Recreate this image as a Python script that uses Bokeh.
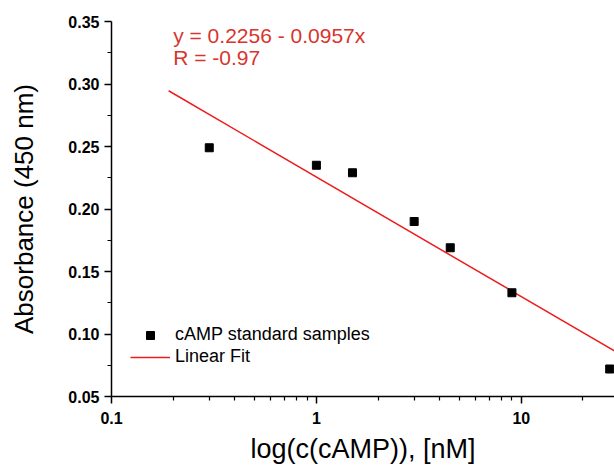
from bokeh.plotting import figure
from bokeh.models import FixedTicker, Range1d, Legend, LegendItem, Label
from bokeh.embed import file_html
from bokeh.resources import INLINE

# data
conc = [0.3, 1.0, 1.5, 3.0, 4.5, 9.0, 27.0]
absorbance = [0.249, 0.235, 0.229, 0.190, 0.169, 0.133, 0.072]
fit_x = [0.19, 30.0]
fit_y = [0.2946, 0.0843]
eq_lines = ["y = 0.2256 - 0.0957x", "R = -0.97"]
y_ticks = [0.05, 0.10, 0.15, 0.20, 0.25, 0.30, 0.35]
y_minor = [0.075, 0.125, 0.175, 0.225, 0.275, 0.325]
x_ticks = [0.1, 1, 10]
x_tick_labels = ["0.1", "1", "10"]
x_minor = [0.2, 0.3, 0.4, 0.5, 0.6, 0.7, 0.8, 0.9, 2, 3, 4, 5, 6, 7, 8, 9, 20]

FONT = "Liberation Sans"
RED_LINE = "#ee1c1c"
RED_TEXT = "#d8352d"

p = figure(width=614, height=467, x_axis_type="log", output_backend="svg",
           toolbar_location=None, min_border_left=111, min_border_top=21,
           min_border_bottom=71, min_border_right=0)
p.x_range = Range1d(0.1, 28.5)
p.y_range = Range1d(0.05, 0.35)
p.outline_line_color = None
p.grid.visible = False
p.background_fill_color = "white"
p.border_fill_color = "white"

fit = p.line(fit_x, fit_y, line_color=RED_LINE, line_width=1.5)
pts = p.scatter(conc, absorbance, marker="square", size=8, color="black")

for ax in (p.xaxis[0], p.yaxis[0]):
    ax.axis_line_width = 1.5
    ax.axis_line_color = "black"
    ax.major_tick_line_width = 1.5
    ax.minor_tick_line_width = 1.2
    ax.major_tick_out = 7
    ax.major_tick_in = 0
    ax.minor_tick_out = 4
    ax.minor_tick_in = 0
    ax.major_label_text_font = FONT
    ax.major_label_text_font_style = "bold"
    ax.major_label_text_font_size = "16px"
    ax.major_label_text_color = "black"
    ax.axis_label_text_font = FONT
    ax.axis_label_text_font_style = "normal"
    ax.axis_label_text_color = "black"

p.yaxis.ticker = FixedTicker(ticks=y_ticks, minor_ticks=y_minor)
p.yaxis.major_label_overrides = {t: f"{t:.2f}" for t in y_ticks}
p.yaxis.major_label_standoff = 5
p.yaxis.axis_label = "Absorbance (450 nm)"
p.yaxis.axis_label_text_font_size = "26px"
p.yaxis.axis_label_standoff = 26

p.xaxis.ticker = FixedTicker(ticks=x_ticks, minor_ticks=x_minor)
p.xaxis.major_label_overrides = dict(zip(x_ticks, x_tick_labels))
p.xaxis.major_label_standoff = 8
p.xaxis.axis_label = "log(c(cAMP)), [nM]"
p.xaxis.axis_label_text_font_size = "27px"
p.xaxis.axis_label_standoff = 7

legend = Legend(items=[LegendItem(label="cAMP standard samples", renderers=[pts]),
                       LegendItem(label="Linear Fit", renderers=[fit])],
                location=(19, 29), padding=0, margin=0, spacing=1,
                glyph_width=40, glyph_height=20, label_height=20,
                label_standoff=5, border_line_color=None,
                background_fill_alpha=0,
                label_text_font=FONT, label_text_font_size="18px",
                label_text_color="black")
p.add_layout(legend)

p.add_layout(Label(x=0.2, y=0.3386, text=eq_lines[0], text_font=FONT,
                   text_font_size="21px", text_color=RED_TEXT,
                   text_baseline="alphabetic"))
p.add_layout(Label(x=0.2, y=0.3210, text=eq_lines[1], text_font=FONT,
                   text_font_size="21px", text_color=RED_TEXT,
                   text_baseline="alphabetic"))

open("out.html", "w").write(file_html(p, INLINE))
